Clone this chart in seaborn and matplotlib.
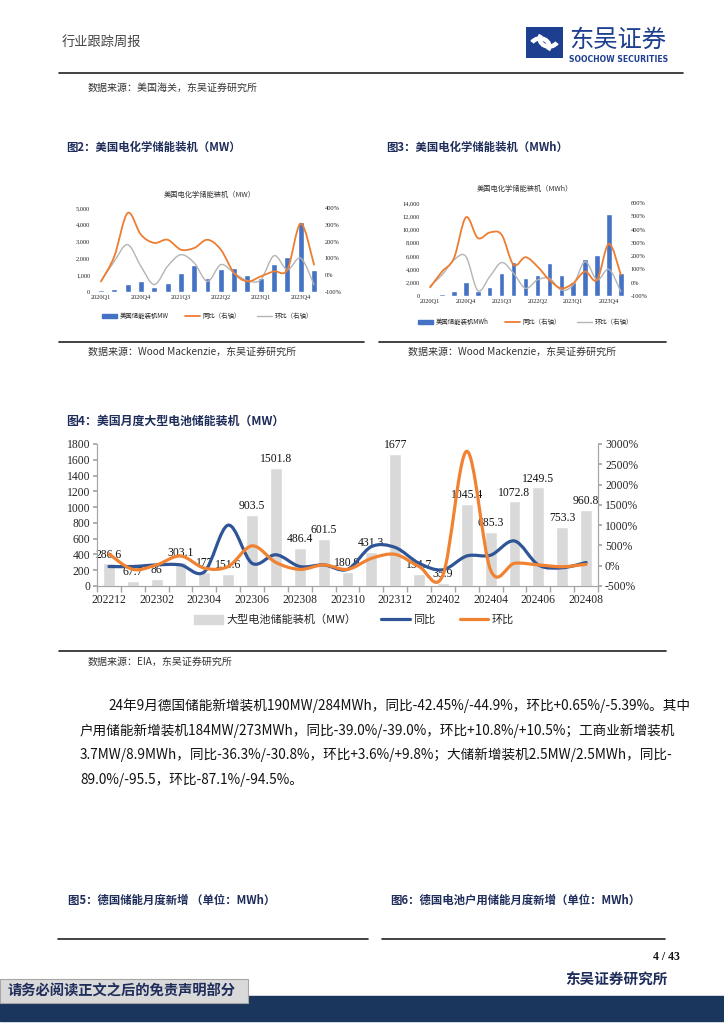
import numpy as np
import matplotlib
matplotlib.use("Agg")
import matplotlib.pyplot as plt
from matplotlib.path import Path
from matplotlib.patches import PathPatch, Rectangle, Patch, Arc
from matplotlib.lines import Line2D
import seaborn as sns

sns.set_theme(style="white")
plt.rcParams["font.family"] = ["Noto Sans CJK SC", "DejaVu Sans"]
plt.rcParams["axes.unicode_minus"] = False

# ---- fig 2 / fig 3: US electrochemical storage, quarterly ----
quarters = ["2020Q1", "2020Q2", "2020Q3", "2020Q4", "2021Q1", "2021Q2", "2021Q3", "2021Q4",
            "2022Q1", "2022Q2", "2022Q3", "2022Q4", "2023Q1", "2023Q2", "2023Q3", "2023Q4", "2024Q1"]
mw = [90, 180, 476, 655, 278, 516, 1151, 1627, 853, 1369, 1448, 1032, 813, 1667, 2103, 4167, 1290]
mw_yoy = [-37, 112, 370, 241, 192, 211, 152, 162, 211, 152, 13, -37, -7, 23, 33, 307, 63]
mw_qoq = [-37, 83, 182, 53, -56, 53, 122, 73, -37, 63, 13, -33, -27, 116, 33, 102, -56]

mwh = [100, 300, 755, 2165, 806, 1410, 3525, 5187, 2770, 3122, 4935, 3122, 2115, 5590, 6194, 12338, 3525]
mwh_yoy = [-35, 84, 185, 492, 336, 378, 361, 134, 192, 122, 21, -42, -4, 84, 21, 293, 59]
mwh_qoq = [-24, 59, 172, 197, -60, 46, 152, 71, -42, 21, 33, -55, -17, 159, 21, 101, -67]

# ---- fig 4: US monthly utility-scale battery storage (MW) ----
months = ["202212", "202301", "202302", "202303", "202304", "202305", "202306", "202307",
          "202308", "202309", "202310", "202311", "202312", "202401", "202402", "202403",
          "202404", "202405", "202406", "202407", "202408"]
battery_mw = [286.6, 67.7, 86, 303.1, 177, 151.6, 903.5, 1501.8, 486.4, 601.5, 180.9,
              431.3, 1677, 154.7, 35.9, 1045.4, 685.3, 1072.8, 1249.5, 753.3, 960.8]
battery_yoy = [-20, -20, 20, 20, -150, 1000, 60, 270, -20, 20, -90, 470, 450, 60, -100,
               240, 260, 610, 20, -50, 80]
battery_mom = [290, -90, 20, 240, -60, -20, 490, 80, -90, 20, -90, 180, 280, -20, -230,
               2820, -110, 60, 20, -25, 35]

paragraph = [
    "24年9月德国储能新增装机190MW/284MWh，同比-42.45%/-44.9%，环比+0.65%/-5.39%。其中",
    "户用储能新增装机184MW/273MWh，同比-39.0%/-39.0%，环比+10.8%/+10.5%；工商业新增装机",
    "3.7MW/8.9MWh，同比-36.3%/-30.8%，环比+3.6%/+9.8%；大储新增装机2.5MW/2.5MWh，同比-",
    "89.0%/-95.5，环比-87.1%/-94.5%。",
]

W, H = 724, 1024
fig = plt.figure(figsize=(7.24, 10.24), dpi=100)
NAVY = "#1F2D5A"
SERIF = ["Liberation Serif", "Noto Sans CJK SC"]


def box(x0, y0, x1, y1):
    return fig.add_axes([x0 / W, 1 - y1 / H, (x1 - x0) / W, (y1 - y0) / H])


def put(x, y, s, size, ha="left", **kw):
    fig.text(x / W, 1 - y / H, s, fontsize=size, ha=ha, va="center", **kw)


def hline(x0, x1, y, lw=1.2, color="#222222"):
    fig.add_artist(Line2D([x0 / W, x1 / W], [1 - y / H, 1 - y / H], color=color, lw=lw))


def smooth(ax, ys, color, lw):
    # excel-like smoothed line, bezier segments through the data points
    pts = np.column_stack([np.arange(len(ys)), ys]).astype(float)
    verts, codes = [pts[0]], [Path.MOVETO]
    n = len(pts)
    for i in range(n - 1):
        p0 = pts[i - 1] if i > 0 else pts[i]
        p1, p2 = pts[i], pts[i + 1]
        p3 = pts[i + 2] if i + 2 < n else pts[i + 1]
        verts += [p1 + (p2 - p0) / 6, p2 - (p3 - p1) / 6, p2]
        codes += [Path.CURVE4] * 3
    ax.add_patch(PathPatch(Path(verts, codes), fill=False, edgecolor=color, lw=lw,
                           capstyle="round", joinstyle="round"))


# ---------------- header ----------------
put(62, 42, "行业跟踪周报", 9.5, color="#444444")
logo = box(526, 27, 563, 58)
logo.set_xlim(0, 1)
logo.set_ylim(0, 1)
logo.add_patch(Rectangle((0, 0), 1, 1, color="#1E3F8F"))
logo.add_patch(Arc((0.62, 0.62), 0.5, 0.5, theta1=150, theta2=330, color="white", lw=3.2))
logo.add_patch(Arc((0.38, 0.38), 0.5, 0.5, theta1=-30, theta2=150, color="white", lw=3.2))
logo.axis("off")
put(569, 40, "东吴证券", 17.5, color="#1E3F8F")
put(569, 59, "SOOCHOW SECURITIES", 5.6, color="#1E3F8F", fontweight="bold",
    family="DejaVu Sans")
hline(59, 683, 73)
put(88, 88, "数据来源：美国海关，东吴证券研究所", 7.2, color="#333333")

# ---------------- fig 2 & fig 3 ----------------
put(66, 147, "图2：美国电化学储能装机（MW）", 8.2, color=NAVY, fontweight="bold")
put(386, 147, "图3：美国电化学储能装机（MWh）", 8.2, color=NAVY, fontweight="bold")


def quarter_chart(rect, bars, yoy, qoq, ymax, ystep, pmin, pmax, pstep,
                  title, title_xy, bar_name, legend_y):
    ax = box(*rect)
    sns.barplot(x=quarters, y=bars, ax=ax, color="#4472C4", width=0.45, saturation=1)
    ax.set_xlim(-0.6, len(quarters) - 0.4)
    ax.set_ylim(0, ymax)
    ticks = np.arange(0, ymax + 1, ystep)
    ax.set_yticks(ticks)
    ax.set_yticklabels([f"{t:,.0f}" for t in ticks], fontsize=4.6, family=SERIF)
    ax.set_xticks(range(0, len(quarters), 3))
    ax.set_xticklabels(quarters[::3], fontsize=4.6, family=SERIF)
    ax.set_xlabel("")
    ax.tick_params(length=0, pad=2)
    ax2 = ax.twinx()
    ax2.set_ylim(pmin, pmax)
    pt = np.arange(pmin, pmax + 1, pstep)
    ax2.set_yticks(pt)
    ax2.set_yticklabels([f"{t}%" for t in pt], fontsize=4.6, family=SERIF)
    ax2.tick_params(length=0, pad=2)
    smooth(ax2, qoq, "#B4B4B4", 1.0)
    smooth(ax2, yoy, "#ED7D31", 1.3)
    for a in (ax, ax2):
        a.grid(False)
        for s in a.spines.values():
            s.set_visible(False)
    put(title_xy[0], title_xy[1], title, 5.2, ha="center", color="#333333")
    handles = [Patch(color="#4472C4"), Line2D([], [], color="#ED7D31", lw=1.3),
               Line2D([], [], color="#B4B4B4", lw=1.0)]
    cx = (rect[0] + rect[2]) / 2
    fig.legend(handles, [bar_name, "同比（右轴）", "环比（右轴）"], loc="center",
               bbox_to_anchor=(cx / W, 1 - legend_y / H), ncol=3, frameon=False,
               fontsize=4.6, handlelength=2.4, handleheight=0.6, columnspacing=2.5,
               handletextpad=0.4)


quarter_chart((93, 208, 322, 292), mw, mw_yoy, mw_qoq, 5000, 1000, -100, 400, 100,
              "美国电化学储能装机（MW）", (210, 195), "美国储能装机MW", 316)
quarter_chart((423, 203, 628, 296), mwh, mwh_yoy, mwh_qoq, 14000, 2000, -100, 600, 100,
              "美国电化学储能装机（MWh）", (525, 189), "美国储能装机MWh", 322)

hline(59, 364, 342)
hline(379, 666, 342)
put(88, 352, "数据来源：Wood Mackenzie，东吴证券研究所", 7.2, color="#333333")
put(408, 352, "数据来源：Wood Mackenzie，东吴证券研究所", 7.2, color="#333333")

# ---------------- fig 4 ----------------
put(66, 421, "图4：美国月度大型电池储能装机（MW）", 8.6, color=NAVY, fontweight="bold")

ax = box(97, 444, 598, 586)
sns.barplot(x=months, y=battery_mw, ax=ax, color="#D9D9D9", width=0.5, saturation=1)
ax.set_xlim(-0.5, len(months) - 0.5)
ax.set_ylim(0, 1800)
ax.set_yticks(range(0, 1801, 200))
ax.set_yticklabels([str(v) for v in range(0, 1801, 200)], fontsize=8.4, family=SERIF)
ax.set_xticks(range(0, len(months), 2))
ax.set_xticklabels(months[::2], fontsize=8.4, family=SERIF)
ax.set_xticks(np.arange(-0.5, len(months), 1), minor=True)
ax.set_xlabel("")
ax.tick_params(axis="x", which="major", length=0, pad=6)
ax.tick_params(axis="x", which="minor", length=4, color="#A6A6A6", direction="out", bottom=True)
ax.tick_params(axis="y", length=3, color="#A6A6A6", direction="out", left=True, pad=2)
for i, v in enumerate(battery_mw):
    ax.annotate(f"{v:g}", (i, v), xytext=(0, 2), textcoords="offset points",
                ha="center", va="bottom", fontsize=8.4, family=SERIF, color="#111111")

ax2 = ax.twinx()
ax2.set_ylim(-500, 3000)
ax2.set_yticks(range(-500, 3001, 500))
ax2.set_yticklabels([f"{v}%" for v in range(-500, 3001, 500)], fontsize=8.4, family=SERIF)
ax2.tick_params(axis="y", length=3, color="#A6A6A6", direction="out", right=True, pad=2)
smooth(ax2, battery_yoy, "#2F5597", 2.3)
smooth(ax2, battery_mom, "#F08232", 2.3)
for a in (ax, ax2):
    a.grid(False)
    a.spines["top"].set_visible(False)
    for s in ("left", "right", "bottom"):
        a.spines[s].set_color("#A6A6A6")
        a.spines[s].set_linewidth(0.8)

handles = [Patch(color="#D9D9D9"), Line2D([], [], color="#2F5597", lw=2.3),
           Line2D([], [], color="#F08232", lw=2.3)]
fig.legend(handles, ["大型电池储能装机（MW）", "同比", "环比"], loc="center",
           bbox_to_anchor=(354 / W, 1 - 620 / H), ncol=3, frameon=False, fontsize=8,
           handlelength=2.6, handleheight=0.9, columnspacing=2.2, handletextpad=0.3)

hline(59, 666, 651)
put(88, 662, "数据来源：EIA，东吴证券研究所", 7.2, color="#333333")

# ---------------- paragraph ----------------
for i, line in enumerate(paragraph):
    put(108 if i == 0 else 80, 706 + i * 24.5, line, 9.8, color="#111111")

# ---------------- fig 5 / fig 6 titles ----------------
put(68, 900, "图5：德国储能月度新增 （单位：MWh）", 8.2, color=NAVY, fontweight="bold")
put(390, 900, "图6：德国电池户用储能月度新增（单位：MWh）", 8.2, color=NAVY, fontweight="bold")
hline(58, 368, 939)
hline(382, 665, 939)

# ---------------- footer ----------------
put(680, 957, "4 / 43", 8.5, ha="right", color="#111111", fontweight="bold", family=SERIF)
put(668, 980, "东吴证券研究所", 10.5, ha="right", color=NAVY, fontweight="bold")
fig.add_artist(Rectangle((0, 1 - 1021 / H), 1, 25 / H, color="#1B365D", transform=fig.transFigure))
fig.add_artist(Rectangle((0, 1 - 1003 / H), 248 / W, 24 / H, facecolor="#D9D9D9",
                         edgecolor="#A6A6A6", lw=0.8, transform=fig.transFigure))
put(8, 991, "请务必阅读正文之后的免责声明部分", 10.3, color=NAVY, fontweight="bold")

fig.savefig("out.png", dpi=100)
